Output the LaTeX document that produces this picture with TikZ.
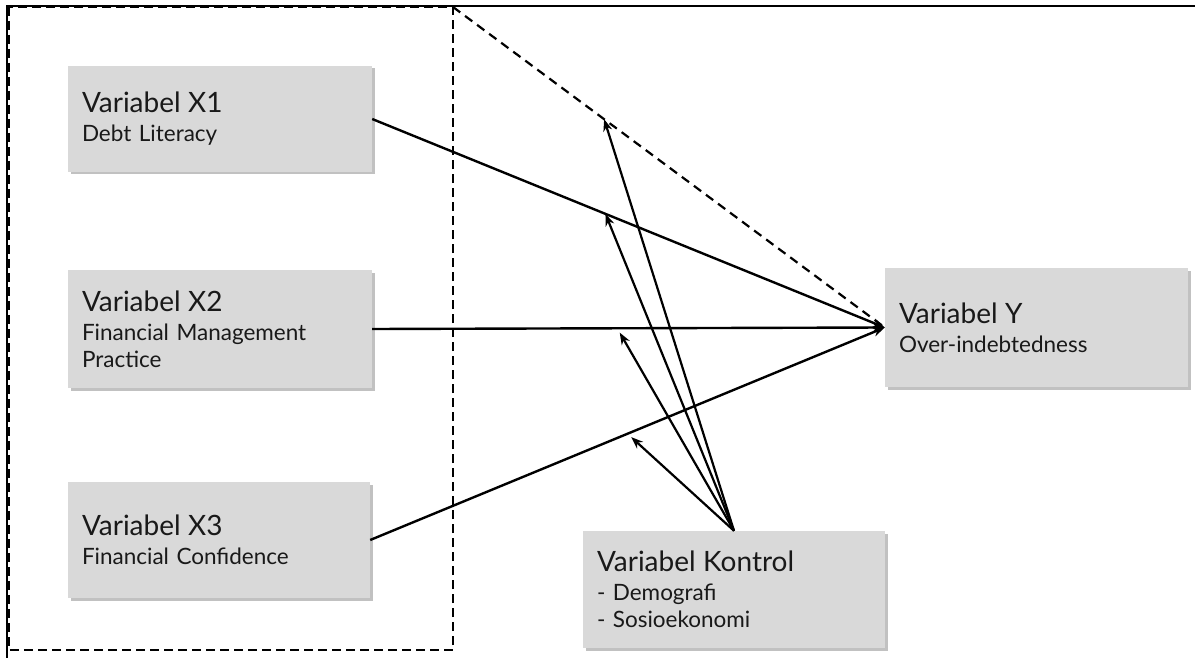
\documentclass[tikz,border=0pt]{standalone}
\usepackage{fontspec}
\setmainfont{Lato}
\usepackage{tikz}
\usetikzlibrary{shadows,arrows.meta}
\definecolor{boxgray}{HTML}{D9D9D9}
\newcommand{\vtitle}[1]{{\fontsize{28}{30}\selectfont #1}}
\tikzset{
  varbox/.style={rectangle,fill=boxgray,inner xsep=14pt,align=left,
    font=\fontsize{22.5}{27}\selectfont,text=black!90,
    drop shadow={shadow xshift=2.5pt,shadow yshift=-2.5pt,opacity=0.35,fill=black!70}},
  link/.style={->,line width=2.4pt},
  ctrl/.style={->,line width=2.2pt},
}

\begin{document}
\begin{tikzpicture}[x=1pt,y=-1pt,>={Stealth[length=12pt,width=9pt]}]
        \useasboundingbox (0,0) rectangle (1195,658);
        % frame and group of independent variables
        \draw[line width=1.6pt] (7,658) -- (7,6) -- (1195,6);
        \draw[dashed,line width=2.8pt,dash pattern=on 9pt off 5pt] (9,7) rectangle (453,650);
        \coordinate (grp) at (453,7);
        % variables
        \node[varbox,minimum width=304pt,minimum height=106pt,text width=276pt] (x1) at (220,119) {\vtitle{Variabel X1}\\[2pt]Debt Literacy};
        \node[varbox,minimum width=304pt,minimum height=118pt,text width=276pt] (x2) at (220,329) {\vtitle{Variabel X2}\\[2pt]Financial Management\\Practice};
        \node[varbox,minimum width=302pt,minimum height=116pt,text width=274pt] (x3) at (219,540) {\vtitle{Variabel X3}\\[2pt]Financial Confidence};
        \node[varbox,minimum width=303pt,minimum height=119pt,text width=275pt] (y) at (1036.5,327.5) {\vtitle{Variabel Y}\\[2pt]Over-indebtedness};
        \node[varbox,minimum width=302pt,minimum height=117pt,text width=274pt] (k) at (734,589.5) {\vtitle{Variabel Kontrol}\\[2pt]- Demografi\\- Sosioekonomi};
        % paths to Y
        \draw[dashed,line width=2.2pt,dash pattern=on 9pt off 6pt] (grp) -- (y.west);
        \draw[link] (x1.east) -- (y.west);
        \draw[link] (x2.east) -- (y.west);
        \draw[link] (x3.east) -- (y.west);
        % points hit by the control variable
        \path (grp) -- (y.west) coordinate[pos=0.35] (m0);
        \path (x1.east) -- (y.west) coordinate[pos=0.455] (m1);
        \path (x2.east) -- (y.west) coordinate[pos=0.478] (m2);
        \path (x3.east) -- (y.west) coordinate[pos=0.5] (m3);
        \draw[ctrl] (k.north) -- (m0);
        \draw[ctrl] (k.north) -- (m1);
        \draw[ctrl,shorten >=5pt] (k.north) -- (m2);
        \draw[ctrl,shorten >=5pt] (k.north) -- (m3);
    \end{tikzpicture}
\end{document}
